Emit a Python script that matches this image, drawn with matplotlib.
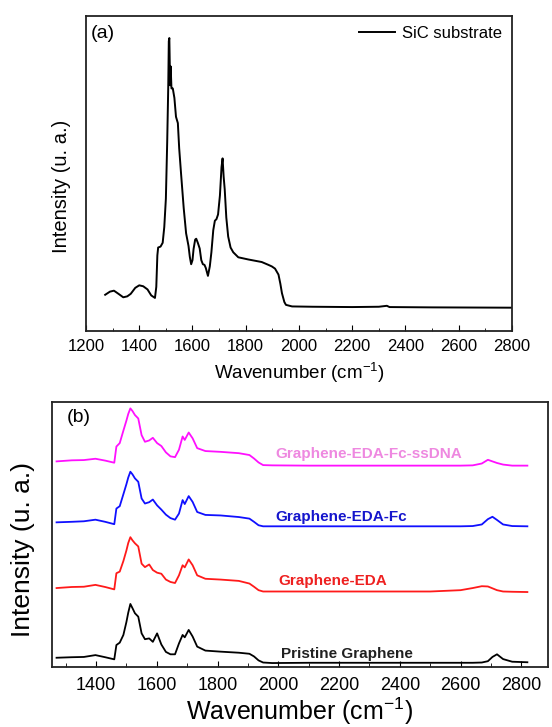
import matplotlib.pyplot as plt
from matplotlib.ticker import MultipleLocator

plt.rcParams['font.family'] = ['Liberation Sans', 'DejaVu Sans']

# (a) SiC substrate spectrum (relative intensity)
sic_x = [1272, 1290, 1305, 1322, 1340, 1355, 1368, 1385, 1400, 1415, 1431, 1445,
         1459, 1464, 1468, 1471, 1480, 1488, 1494, 1500, 1505, 1509, 1511, 1513,
         1516, 1518, 1521, 1526, 1532, 1538, 1545, 1550, 1557, 1567, 1576, 1585,
         1590, 1595, 1600, 1604, 1610, 1614, 1620, 1627, 1633, 1639, 1645, 1650,
         1658, 1665, 1671, 1678, 1684, 1690, 1696, 1703, 1709, 1713, 1717, 1721,
         1727, 1734, 1743, 1753, 1772, 1810, 1860, 1885, 1898, 1910, 1923, 1930,
         1936, 1945, 1951, 1974, 2050, 2200, 2300, 2330, 2340, 2500, 2800]
sic_y = [0.115, 0.125, 0.128, 0.118, 0.107, 0.110, 0.118, 0.137, 0.145, 0.142, 0.132, 0.113,
         0.105, 0.140, 0.240, 0.265, 0.268, 0.280, 0.330, 0.420, 0.600, 0.780, 0.920, 0.930,
         0.780, 0.840, 0.770, 0.770, 0.740, 0.680, 0.660, 0.580, 0.500, 0.390, 0.310, 0.270,
         0.235, 0.212, 0.225, 0.260, 0.290, 0.293, 0.280, 0.262, 0.225, 0.212, 0.210, 0.200,
         0.175, 0.205, 0.250, 0.320, 0.350, 0.355, 0.370, 0.430, 0.520, 0.548, 0.490, 0.450,
         0.360, 0.300, 0.265, 0.250, 0.234, 0.227, 0.219, 0.210, 0.205, 0.198, 0.179, 0.150,
         0.120, 0.092, 0.083, 0.078, 0.077, 0.076, 0.077, 0.080, 0.076, 0.075, 0.074]

# (b) stacked spectra on a common wavenumber grid
wn = [1270, 1320, 1360, 1398, 1430, 1460, 1467, 1478, 1490, 1500, 1506, 1513, 1520, 1528,
      1539, 1550, 1561, 1575, 1587, 1601, 1615, 1630, 1645, 1660, 1673, 1685,
      1692, 1705, 1718, 1733, 1760, 1810, 1870, 1905, 1920, 1935, 1950, 1980,
      2100, 2300, 2500, 2600, 2640, 2670, 2690, 2705, 2720, 2740, 2770, 2820]
pristine = [0.035, 0.037, 0.038, 0.045, 0.037, 0.029, 0.083, 0.092, 0.121, 0.170, 0.205, 0.238, 0.222, 0.203,
            0.190, 0.127, 0.105, 0.108, 0.095, 0.127, 0.085, 0.057, 0.048, 0.048, 0.089, 0.121,
            0.112, 0.140, 0.115, 0.077, 0.062, 0.058, 0.054, 0.050, 0.040, 0.025, 0.017, 0.015,
            0.016, 0.016, 0.016, 0.016, 0.016, 0.017, 0.022, 0.038, 0.048, 0.030, 0.020, 0.018]
eda = [0.298, 0.302, 0.303, 0.310, 0.302, 0.293, 0.354, 0.360, 0.400, 0.440, 0.468, 0.490, 0.478, 0.467,
       0.455, 0.390, 0.377, 0.387, 0.366, 0.356, 0.352, 0.330, 0.321, 0.317, 0.346, 0.384,
       0.376, 0.406, 0.384, 0.346, 0.333, 0.330, 0.325, 0.315, 0.303, 0.290, 0.285, 0.285,
       0.285, 0.285, 0.285, 0.290, 0.298, 0.305, 0.304, 0.297, 0.290, 0.285, 0.284, 0.283]
eda_fc = [0.546, 0.548, 0.550, 0.556, 0.548, 0.539, 0.598, 0.607, 0.652, 0.690, 0.715, 0.737, 0.727, 0.712,
          0.699, 0.636, 0.617, 0.622, 0.632, 0.610, 0.594, 0.575, 0.562, 0.556, 0.579, 0.630,
          0.615, 0.645, 0.623, 0.585, 0.574, 0.572, 0.566, 0.560, 0.548, 0.535, 0.531, 0.531,
          0.531, 0.531, 0.531, 0.531, 0.532, 0.538, 0.558, 0.567, 0.555, 0.538, 0.532, 0.531]
eda_fc_dna = [0.776, 0.780, 0.781, 0.786, 0.779, 0.771, 0.832, 0.845, 0.892, 0.930, 0.955, 0.976, 0.966, 0.951,
              0.938, 0.875, 0.850, 0.855, 0.865, 0.845, 0.834, 0.810, 0.795, 0.792, 0.820, 0.870,
              0.857, 0.885, 0.863, 0.826, 0.815, 0.812, 0.807, 0.800, 0.787, 0.772, 0.762, 0.761,
              0.760, 0.760, 0.760, 0.760, 0.761, 0.768, 0.782, 0.776, 0.770, 0.764, 0.760, 0.760]

names = ['Pristine Graphene', 'Graphene-EDA', 'Graphene-EDA-Fc', 'Graphene-EDA-Fc-ssDNA']
line_colors = ['black', '#ff1a1a', '#1010ff', '#ff10ff']
text_colors = ['#202020', '#ee2020', '#1515cc', '#ee88e0']
label_x = [2010, 2000, 1990, 1990]
label_y = [0.05, 0.325, 0.565, 0.805]

fig = plt.figure(figsize=(5.52, 7.27), dpi=100)

# ---- panel (a)
ax1 = fig.add_axes([0.1558, 0.5447, 0.7717, 0.4333])
ax1.plot(sic_x, sic_y, color='black', lw=1.4, label='SiC substrate')
ax1.set_xlim(1200, 2800)
ax1.set_ylim(0, 1)
ax1.set_yticks([])
ax1.xaxis.set_major_locator(MultipleLocator(200))
ax1.xaxis.set_minor_locator(MultipleLocator(100))
ax1.tick_params(axis='x', which='both', direction='in', labelsize=12, pad=6)
ax1.tick_params(axis='x', which='major', length=4)
ax1.tick_params(axis='x', which='minor', length=2)
ax1.set_xlabel('Wavenumber (cm$^{\\mathregular{-1}}$)', fontsize=13.5, labelpad=4)
ax1.set_ylabel('Intensity (u. a.)', fontsize=14.5)
ax1.yaxis.set_label_coords(-0.035, 0.46)
ax1.text(0.01, 0.97, '(a)', transform=ax1.transAxes, fontsize=14, va='top')
ax1.legend(loc='upper right', frameon=False, fontsize=12, handlelength=2.2,
           handletextpad=0.4, borderaxespad=0.2)

# ---- panel (b)
ax2 = fig.add_axes([0.0942, 0.0825, 0.8986, 0.3645])
for y, name, lc, tc, lx, ly in zip([pristine, eda, eda_fc, eda_fc_dna], names,
                                   line_colors, text_colors, label_x, label_y):
    ax2.plot(wn, y, color=lc, lw=1.3)
    ax2.text(lx, ly, name, color=tc, fontsize=11, fontweight='bold', va='center')
ax2.set_xlim(1255, 2888)
ax2.set_ylim(0, 1)
ax2.set_yticks([])
ax2.xaxis.set_major_locator(MultipleLocator(200))
ax2.xaxis.set_minor_locator(MultipleLocator(100))
ax2.tick_params(axis='x', which='both', direction='in', labelsize=13, pad=7)
ax2.tick_params(axis='x', which='major', length=4)
ax2.tick_params(axis='x', which='minor', length=3)
ax2.set_xlabel('Wavenumber (cm$^{\\mathregular{-1}}$)', fontsize=18, labelpad=1)
ax2.set_ylabel('Intensity (u. a.)', fontsize=19)
ax2.yaxis.set_label_coords(-0.034, 0.445)
ax2.text(0.03, 0.975, '(b)', transform=ax2.transAxes, fontsize=14, va='top')

for ax in (ax1, ax2):
    for s in ax.spines.values():
        s.set_linewidth(1.3)
        s.set_color('#222222')

fig.savefig('out.png', dpi=100)
